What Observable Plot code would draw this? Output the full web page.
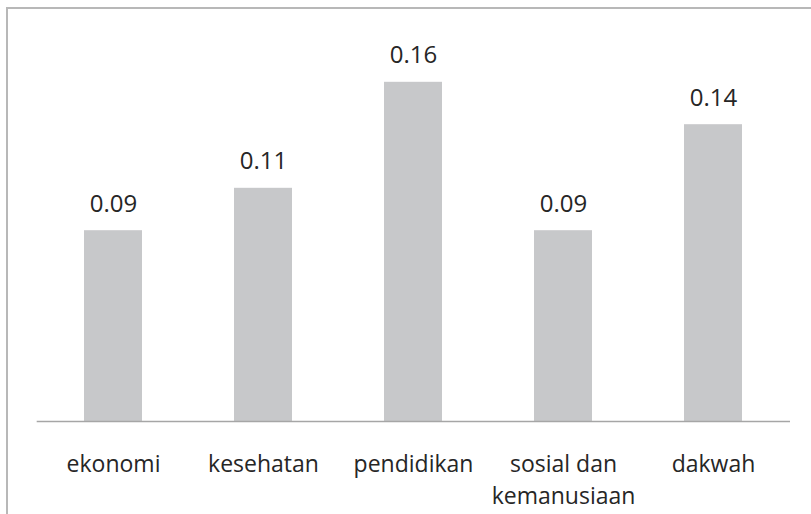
<!DOCTYPE html>
<html>
<head>
<meta charset="utf-8">
<script src="https://cdn.jsdelivr.net/npm/d3@7"></script>
<script src="https://cdn.jsdelivr.net/npm/@observablehq/plot@0.6"></script>
<style>
  html, body { margin: 0; padding: 0; background: #fff; overflow: hidden; }
  #wrap { position: relative; width: 811px; height: 514px; overflow: hidden; }
  #border { position: absolute; left: 6px; top: 7px; width: 900px; height: 700px;
            border: 2px solid #b8b8b8; box-sizing: border-box; pointer-events: none; }
  #chart { position: absolute; left: 0; top: 0; }
</style>
</head>
<body>
<div id="wrap"><div id="chart"></div><div id="border"></div></div>
<script>
const categories = ["ekonomi", "kesehatan", "pendidikan", "sosial dan\nkemanusiaan", "dakwah"];
const values = [0.09, 0.11, 0.16, 0.09, 0.14];
const valueLabels = ["0.09", "0.11", "0.16", "0.09", "0.14"];

const data = categories.map((c, i) => ({cat: c, v: values[i], label: valueLabels[i]}));
const font = "'Open Sans', sans-serif";

const chart = Plot.plot({
  width: 811,
  height: 514,
  marginLeft: 36.7,
  marginRight: 21,
  marginTop: 39.4,
  marginBottom: 93,
  style: {fontFamily: font, background: "transparent", color: "#262626"},
  x: {domain: categories, paddingInner: 0.613, paddingOuter: 0.3065, label: null},
  y: {domain: [0, 0.18], axis: null},
  marks: [
    Plot.barY(data, {x: "cat", y: "v", fill: "#c7c8ca"}),
    Plot.ruleY([0], {stroke: "#a6a6a6", strokeWidth: 1.4}),
    Plot.text(data, {x: "cat", y: "v", text: "label", lineAnchor: "bottom", dy: -19,
                     fontSize: 24, fill: "#262626", fontFamily: font}),
    Plot.axisX({tickSize: 0, tickPadding: 27, fontSize: 23, lineHeight: 1.41,
                fill: "#262626", label: null, fontFamily: font})
  ]
});
document.getElementById("chart").appendChild(chart);
</script>
</body>
</html>
